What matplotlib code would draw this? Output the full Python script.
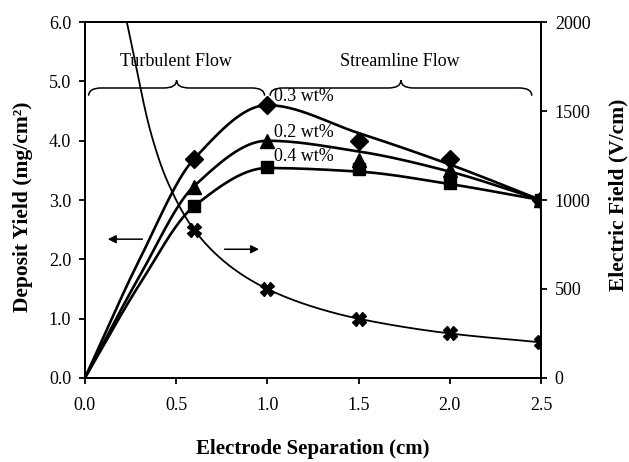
import numpy as np
import matplotlib
matplotlib.use("Agg")
import matplotlib.pyplot as plt
from matplotlib.path import Path
from matplotlib.patches import PathPatch

plt.rcParams['font.family'] = ['Liberation Serif', 'DejaVu Serif']

# marker data (deposit yield, mg/cm2)
sep = [0.6, 1.0, 1.5, 2.0, 2.5]
yield_03 = [3.7, 4.6, 4.0, 3.7, 3.0]
yield_02 = [3.22, 4.0, 3.68, 3.5, 3.0]
yield_04 = [2.9, 3.55, 3.52, 3.28, 3.0]
field = [831, 500, 333, 250, 200]

# fitted curves
curve_x = [0.0, 0.3, 0.6, 1.0, 1.5, 2.0, 2.5]
curve_03 = [0.0, 2.0, 3.7, 4.6, 4.13, 3.6, 3.0]
curve_02 = [0.0, 1.72, 3.24, 4.0, 3.82, 3.48, 3.0]
curve_04 = [0.0, 1.58, 2.9, 3.54, 3.48, 3.27, 3.0]
field_curve_x = [0.23, 0.365, 0.45, 0.6, 0.8, 1.0, 1.25, 1.5, 2.0, 2.5]
field_curve = [2000, 1365, 1110, 831, 625, 500, 400, 333, 250, 200]


def pchip(x, y, xs):
    """Monotone cubic through the points, used only to draw a smooth line."""
    x = np.asarray(x, float)
    y = np.asarray(y, float)
    h = np.diff(x)
    d = np.diff(y) / h
    m = np.zeros_like(y)
    m[0], m[-1] = d[0], d[-1]
    for k in range(1, len(x) - 1):
        if d[k - 1] * d[k] > 0:
            w1 = 2 * h[k] + h[k - 1]
            w2 = h[k] + 2 * h[k - 1]
            m[k] = (w1 + w2) / (w1 / d[k - 1] + w2 / d[k])
    i = np.clip(np.searchsorted(x, xs) - 1, 0, len(x) - 2)
    t = (xs - x[i]) / h[i]
    h00 = 2 * t**3 - 3 * t**2 + 1
    h10 = t**3 - 2 * t**2 + t
    h01 = -2 * t**3 + 3 * t**2
    h11 = t**3 - t**2
    return h00 * y[i] + h10 * h[i] * m[i] + h01 * y[i + 1] + h11 * h[i] * m[i + 1]


def brace(ax, x0, x1, y, r=0.07, dy=0.13):
    xm = (x0 + x1) / 2
    verts = [(x0, y - dy), (x0, y), (x0 + r, y),
             (xm - r, y), (xm, y), (xm, y + dy),
             (xm, y), (xm + r, y),
             (x1 - r, y), (x1, y), (x1, y - dy)]
    codes = [Path.MOVETO, Path.CURVE3, Path.CURVE3,
             Path.LINETO, Path.CURVE3, Path.CURVE3,
             Path.CURVE3, Path.CURVE3,
             Path.LINETO, Path.CURVE3, Path.CURVE3]
    ax.add_patch(PathPatch(Path(verts, codes), fill=False, lw=1.1, color='black'))


fig = plt.figure(figsize=(6.29, 4.62), dpi=100)
ax = fig.add_axes([0.135, 0.182, 0.725, 0.770])
ax2 = ax.twinx()

xs = np.linspace(0, 2.5, 300)
for cy in (curve_03, curve_02, curve_04):
    ax.plot(xs, pchip(curve_x, cy, xs), color='black', lw=1.9)

ax.plot(sep, yield_03, ls='none', marker='D', ms=9.5, color='black')
ax.plot(sep, yield_02, ls='none', marker='^', ms=10.5, color='black')
ax.plot(sep, yield_04, ls='none', marker='s', ms=9, color='black')

xf = np.linspace(field_curve_x[0], 2.5, 300)
ax2.plot(xf, pchip(field_curve_x, field_curve, xf), color='black', lw=1.3)
ax2.plot(sep, field, ls='none', marker='X', ms=10, color='black')

ax.set_xlim(0, 2.5)
ax.set_ylim(0, 6)
ax2.set_ylim(0, 2000)
ax.set_xticks(np.arange(0, 2.51, 0.5))
ax.set_yticks(np.arange(0, 6.01, 1.0))
ax2.set_yticks(np.arange(0, 2001, 500))
ax.xaxis.set_major_formatter(matplotlib.ticker.FormatStrFormatter('%.1f'))
ax.yaxis.set_major_formatter(matplotlib.ticker.FormatStrFormatter('%.1f'))

for a in (ax, ax2):
    a.tick_params(direction='out', length=4, width=1.3, labelsize=13, pad=6)
    for s in a.spines.values():
        s.set_linewidth(1.4)
ax.tick_params(axis='x', pad=10)

ax.set_xlabel('Electrode Separation (cm)', fontsize=15, fontweight='bold')
ax.set_ylabel('Deposit Yield (mg/cm²)', fontsize=15.5, fontweight='bold')
ax2.set_ylabel('Electric Field (V/cm)', fontsize=15.5, fontweight='bold')
ax.xaxis.set_label_coords(0.5, -0.172)
ax.yaxis.set_label_coords(-0.114, 0.48)
ax2.yaxis.set_label_coords(1.149, 0.515)

# flow regime braces and labels
brace(ax, 0.02, 0.985, 4.89)
brace(ax, 1.015, 2.45, 4.89)
ax.text(0.5, 5.34, 'Turbulent Flow', ha='center', va='center', fontsize=13)
ax.text(1.725, 5.34, 'Streamline Flow', ha='center', va='center', fontsize=13)

ax.text(1.035, 4.75, '0.3 wt%', ha='left', va='center', fontsize=13)
ax.text(1.035, 4.14, '0.2 wt%', ha='left', va='center', fontsize=13)
ax.text(1.035, 3.74, '0.4 wt%', ha='left', va='center', fontsize=13)

ax.annotate('', xy=(0.11, 2.34), xytext=(0.33, 2.34),
            arrowprops=dict(arrowstyle='-|>', color='black', lw=1.1, mutation_scale=12))
ax.annotate('', xy=(0.97, 2.17), xytext=(0.75, 2.17),
            arrowprops=dict(arrowstyle='-|>', color='black', lw=1.1, mutation_scale=12))

fig.savefig('out.png', dpi=100)
